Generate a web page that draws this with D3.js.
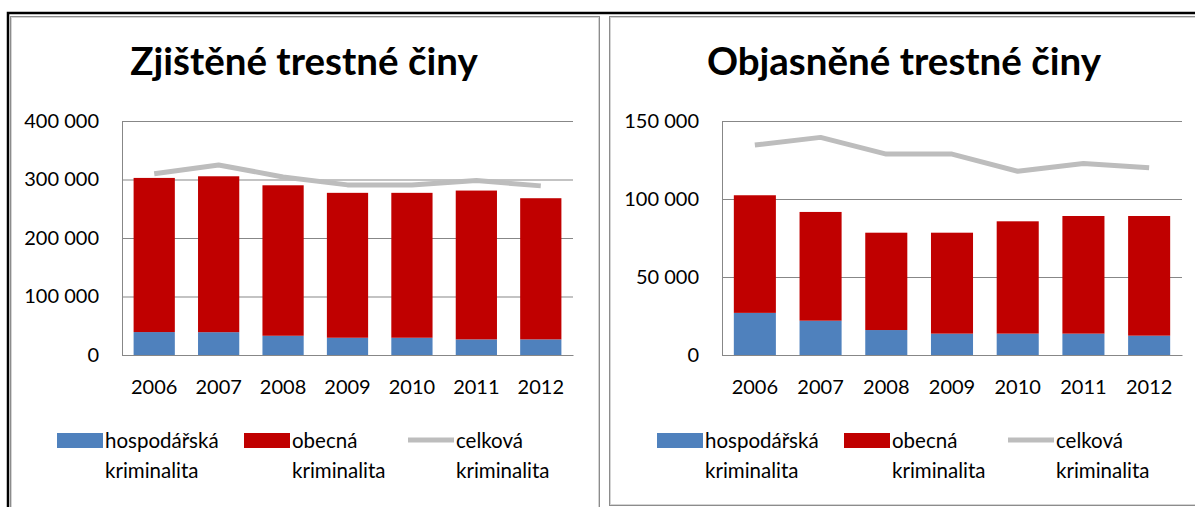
<!DOCTYPE html>
<html>
<head>
<meta charset="utf-8">
<script src="https://cdn.jsdelivr.net/npm/d3@7"></script>
<style>
  body { margin: 0; background: #fff; }
  svg { display: block; font-family: Lato, "Open Sans", sans-serif; }
</style>
</head>
<body>
<script>
// data
var years = ['2006', '2007', '2008', '2009', '2010', '2011', '2012'];

var zjisteneHospodarska = [39200, 39000, 32900, 29500, 29500, 26700, 26700];
var zjisteneObecna = [263500, 266500, 257200, 247700, 247700, 254400, 241300];
var zjisteneCelkova = [310000, 324900, 304400, 290800, 290800, 298100, 289100];
var zjisteneTicks = [0, 100000, 200000, 300000, 400000];

var objasneneHospodarska = [27000, 22000, 16000, 13700, 13700, 13700, 12400];
var objasneneObecna = [75400, 69700, 62400, 64700, 72000, 75400, 76700];
var objasneneCelkova = [134600, 139500, 128800, 128800, 117800, 122800, 120000];
var objasneneTicks = [0, 50000, 100000, 150000];

var legendLabels = ['hospodářská', 'obecná', 'celková'];
var legendLine2 = 'kriminalita';

var colors = {hosp: '#4f81bd', obec: '#c00000', celk: '#bdbdbd'};

var fmt = d3.formatLocale({decimal: ',', thousands: ' ', grouping: [3], currency: ['', '']}).format(',d');

var width = 1195, height = 507;
var svg = d3.select('body').append('svg').attr('width', width).attr('height', height);

// outer frame
svg.append('path')
	.attr('d', 'M8,507V13H1195')
	.attr('fill', 'none').attr('stroke', '#000').attr('stroke-width', 2.5);

var panels = [
	{title: 'Zjištěné trestné činy', x: 10, w: 589, h: 497, titleX: 304,
		plot: {left: 122, right: 573}, hosp: zjisteneHospodarska, obec: zjisteneObecna,
		celk: zjisteneCelkova, ticks: zjisteneTicks},
	{title: 'Objasněné trestné činy', x: 609, w: 600, h: 489, titleX: 904,
		plot: {left: 722, right: 1182}, hosp: objasneneHospodarska, obec: objasneneObecna,
		celk: objasneneCelkova, ticks: objasneneTicks}
];

var plotTop = 121, plotBottom = 355;

panels.forEach(p => {
	// panel frame
	svg.append('rect')
		.attr('x', p.x + 0.5).attr('y', 16.5).attr('width', p.w).attr('height', p.h)
		.attr('fill', 'none').attr('stroke', '#8c8c8c').attr('stroke-width', 1);
	svg.append('rect')
		.attr('x', p.x + 1.5).attr('y', 17.5).attr('width', p.w - 2).attr('height', p.h - 2)
		.attr('fill', 'none').attr('stroke', '#d4d4d4').attr('stroke-width', 1);

	svg.append('text')
		.attr('x', p.titleX).attr('y', 75)
		.attr('text-anchor', 'middle')
		.attr('font-size', 38.5).attr('font-weight', 'bold')
		.text(p.title);

	var x = d3.scaleBand().domain(years).range([p.plot.left, p.plot.right]).paddingInner(0.36).paddingOuter(0.18);
	var y = d3.scaleLinear().domain([0, d3.max(p.ticks)]).range([plotBottom, plotTop]);

	var g = svg.append('g');

	// grid + y axis
	g.append('g')
		.attr('transform', `translate(${p.plot.left},0)`)
		.call(d3.axisLeft(y).tickValues(p.ticks).tickFormat(fmt)
			.tickSizeInner(-(p.plot.right - p.plot.left)).tickSizeOuter(0).tickPadding(23))
		.call(a => a.select('.domain').attr('stroke', '#878787'))
		.call(a => a.selectAll('.tick line').attr('stroke', '#878787'))
		.call(a => a.selectAll('.tick text').attr('font-size', 20).attr('fill', '#000')
			.attr('font-family', 'Lato, sans-serif'));

	var rows = years.map((yr, i) => ({year: yr, hosp: p.hosp[i], obec: p.obec[i]}));
	var stacked = d3.stack().keys(['hosp', 'obec'])(rows);

	g.selectAll('g.layer')
		.data(stacked)
		.enter().append('g')
			.attr('class', 'layer')
			.attr('fill', d => colors[d.key])
		.selectAll('rect')
		.data(d => d)
		.enter().append('rect')
			.attr('x', d => x(d.data.year))
			.attr('width', x.bandwidth())
			.attr('y', d => y(d[1]))
			.attr('height', d => y(d[0]) - y(d[1]));

	// x axis
	g.append('g')
		.attr('transform', `translate(0,${plotBottom})`)
		.call(d3.axisBottom(x).tickSize(0).tickPadding(25))
		.call(a => a.select('.domain').attr('stroke', '#878787'))
		.call(a => a.selectAll('.tick text').attr('font-size', 20).attr('fill', '#000')
			.attr('font-family', 'Lato, sans-serif'));

	// total line
	var line = d3.line()
		.x((d, i) => x(years[i]) + x.bandwidth() / 2)
		.y(d => y(d));
	g.append('path')
		.datum(p.celk)
		.attr('d', line)
		.attr('fill', 'none')
		.attr('stroke', colors.celk)
		.attr('stroke-width', 5)
		.attr('stroke-linejoin', 'round');

	// legend
	var lx = p.plot.left - 65;
	var items = [
		{key: 'hosp', dx: 0},
		{key: 'obec', dx: 187},
		{key: 'celk', dx: 351}
	];
	var leg = svg.append('g').attr('transform', `translate(${lx},0)`);
	items.forEach((it, i) => {
		if (it.key === 'celk') {
			leg.append('line')
				.attr('x1', it.dx).attr('x2', it.dx + 46)
				.attr('y1', 440).attr('y2', 440)
				.attr('stroke', colors.celk).attr('stroke-width', 5);
		} else {
			leg.append('rect')
				.attr('x', it.dx).attr('y', 433).attr('width', 46).attr('height', 15)
				.attr('fill', colors[it.key]);
		}
		var t = leg.append('text')
			.attr('x', it.dx + 48).attr('y', 448)
			.attr('font-size', 20.5);
		t.append('tspan').text(legendLabels[i]);
		t.append('tspan').attr('x', it.dx + 48).attr('y', 478).text(legendLine2);
	});
});
</script>
</body>
</html>
